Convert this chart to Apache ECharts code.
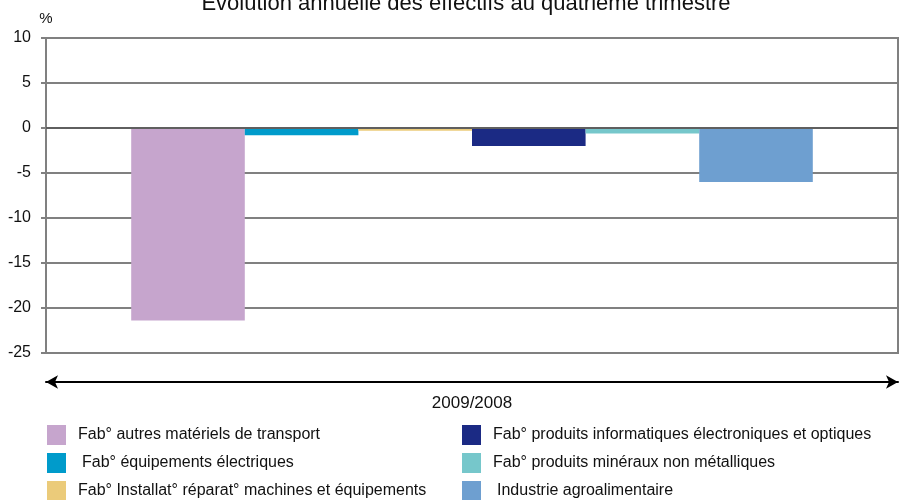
<!DOCTYPE html>
<html><head><meta charset="utf-8">
<script src="https://cdn.jsdelivr.net/npm/echarts@6/dist/echarts.min.js"></script>
<style>html,body{margin:0;padding:0;background:#fff}#c{width:900px;height:500px}</style>
</head><body><div id="c"></div>
<script>
const categories = ['2009/2008'];
const seriesNames = [
  'Fab° autres matériels de transport',
  'Fab° équipements électriques',
  'Fab° Installat° réparat° machines et équipements',
  'Fab° produits informatiques électroniques et optiques',
  'Fab° produits minéraux non métalliques',
  'Industrie agroalimentaire'
];
const seriesValues = [[-21.4], [-0.8], [-0.3], [-2.0], [-0.6], [-6.0]];
const seriesColors = ['#C6A5CD', '#009BCB', '#EBCB7A', '#1B2A84', '#76C7CB', '#6E9FD0'];
const yTicks = [10, 5, 0, -5, -10, -15, -20, -25];

const FONT = 'Liberation Sans, Arial, sans-serif';
const chart = echarts.init(document.getElementById('c'));
const series = seriesNames.map((n, i) => ({
  name: n, type: 'bar', data: seriesValues[i],
  barGap: '0%', barCategoryGap: '20%',
  itemStyle: { color: seriesColors[i] },
  markLine: i === 0 ? {
    silent: true, symbol: ['none', 'none'], label: { show: false },
    lineStyle: { color: '#5f5f5f', width: 2, type: 'solid' },
    data: [{ yAxis: 0 }]
  } : undefined
}));
const legendPos = [[47, 425], [47, 453], [47, 481], [462, 425], [462, 453], [462, 481]];
const legends = seriesNames.map((n, i) => ({
  left: legendPos[i][0], top: legendPos[i][1], data: [n],
  icon: 'rect', itemWidth: 19, itemHeight: 20, padding: 0,
  textStyle: { fontFamily: FONT, fontSize: 16, color: '#111', padding: [0, 0, 0, i === 1 || i === 5 ? 11 : 7] }
}));
chart.setOption({
  animation: false,
  title: {
    text: 'Évolution annuelle des effectifs au quatrième trimestre',
    left: 461, textAlign: 'center', top: -12,
    textStyle: { fontFamily: FONT, fontSize: 22, fontWeight: 'normal', color: '#111' }
  },
  grid: { left: 46, right: 2, top: 38, bottom: 147, show: true, borderColor: '#808080', borderWidth: 2 },
  legend: legends,
  xAxis: {
    type: 'category', data: categories, position: 'bottom', offset: 29,
    axisLine: { onZero: false, symbol: ['arrow', 'arrow'], symbolSize: [10, 12],
      lineStyle: { color: '#000', width: 2 } },
    axisTick: { show: false },
    axisLabel: { fontFamily: FONT, fontSize: 17, color: '#111', margin: 13 }
  },
  yAxis: {
    type: 'value', min: -25, max: 10, interval: 5,
    name: '%', nameLocation: 'end', nameGap: 12,
    nameTextStyle: { fontFamily: FONT, fontSize: 15, color: '#111', align: 'center' },
    axisLine: { show: true, lineStyle: { color: '#808080', width: 2 } },
    axisTick: { show: true, length: 5, lineStyle: { color: '#808080', width: 2 } },
    splitLine: { lineStyle: { color: '#808080', width: 2 } },
    axisLabel: { fontFamily: FONT, fontSize: 16, color: '#111', margin: 15,
      formatter: v => yTicks.includes(v) ? String(v) : '' }
  },
  series
});
</script></body></html>
